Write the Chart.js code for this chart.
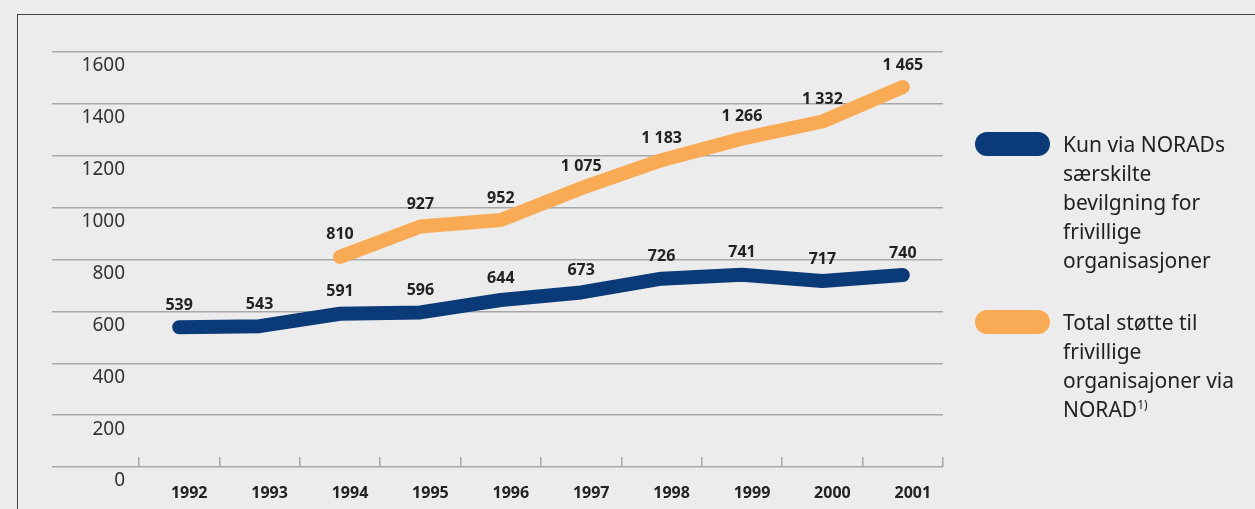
<!DOCTYPE html>
<html>
<head>
<meta charset="utf-8">
<script src="https://cdn.jsdelivr.net/npm/chart.js@4"></script>
<style>
html, body { margin: 0; padding: 0; background: #ececec; }
#wrap { position: relative; width: 1255px; height: 509px; overflow: hidden; }
#frame { position: absolute; left: 17px; top: 14px; width: 1300px; height: 600px;
  border-top: 1.5px solid #444; border-left: 1.5px solid #444; }
canvas { position: absolute; left: 0; top: 0; }
.leg { position: absolute; left: 975px; font-family: "Noto Sans", sans-serif; font-size: 21px;
  color: #222; line-height: 29px; }
.leg .pill { position: absolute; left: 0; width: 75px; height: 24px; border-radius: 12px; }
.leg .txt { position: absolute; left: 88px; width: 200px; top: 0; }
.leg sup { font-size: 12px; line-height: 0; }
</style>
</head>
<body>
<div id="wrap">
  <div id="frame"></div>
  <canvas id="chart" width="1255" height="509"></canvas>
  <div class="leg" style="top:132px">
    <div class="pill" style="background:#0b3a78;top:0"></div>
    <div class="txt" style="top:-2px">Kun via NORADs<br>særskilte<br>bevilgning for<br>frivillige<br>organisasjoner</div>
  </div>
  <div class="leg" style="top:310px">
    <div class="pill" style="background:#f9aa55;top:0"></div>
    <div class="txt" style="top:-2px">Total støtte til<br>frivillige<br>organisajoner via<br>NORAD<sup>1)</sup></div>
  </div>
</div>
<script>
var years = ['1992','1993','1994','1995','1996','1997','1998','1999','2000','2001'];
var kunNorad = [539, 543, 591, 596, 644, 673, 726, 741, 717, 740];
var totalStotte = [null, null, 810, 927, 952, 1075, 1183, 1266, 1332, 1465];
var yTicks = [0, 200, 400, 600, 800, 1000, 1200, 1400, 1600];

function fmt(v){
	return String(v).replace(/\B(?=(\d{3})+(?!\d))/g, ' ');
}

// verdier over punktene
var valueLabels = {
	id: 'valueLabels',
	afterDatasetsDraw: function(chart){
		var ctx = chart.ctx;
		ctx.save();
		ctx.font = 'bold 16px "Noto Sans", sans-serif';
		ctx.fillStyle = '#222';
		ctx.textAlign = 'center';
		ctx.textBaseline = 'middle';
		chart.data.datasets.forEach(function(ds, i){
			var meta = chart.getDatasetMeta(i);
			meta.data.forEach(function(pt, j){
				if(ds.data[j] == null) return;
				ctx.fillText(fmt(ds.data[j]), pt.x, pt.y - 22);
			});
		});
		ctx.restore();
	}
};

var ctx = document.getElementById('chart').getContext('2d');
var myChart = new Chart(ctx, {
	type: 'line',
	data: {
		labels: years,
		datasets: [{
			label: 'Kun via NORADs særskilte bevilgning for frivillige organisasjoner',
			data: kunNorad,
			borderColor: '#0b3a78',
			backgroundColor: '#0b3a78',
			borderWidth: 14,
			borderCapStyle: 'round',
			borderJoinStyle: 'round',
			pointRadius: 0,
			tension: 0
		}, {
			label: 'Total støtte til frivillige organisajoner via NORAD',
			data: totalStotte,
			borderColor: '#f9aa55',
			backgroundColor: '#f9aa55',
			borderWidth: 14,
			borderCapStyle: 'round',
			borderJoinStyle: 'round',
			pointRadius: 0,
			tension: 0
		}]
	},
	options: {
		responsive: false,
		animation: false,
		events: [],
		layout: { padding: { left: 52, right: 312, top: 52, bottom: 0 } },
		plugins: { legend: { display: false }, tooltip: { enabled: false } },
		scales: {
			x: {
				offset: true,
				border: { display: false },
				grid: { offset: true, drawOnChartArea: false, drawTicks: true, tickLength: -10, color: '#a8a8a8', lineWidth: 1.5 },
				ticks: { padding: 27, labelOffset: 10, color: '#222', font: { family: '"Noto Sans", sans-serif', size: 16, weight: 'bold' } },
				afterFit: function(s){ s.height = 42; }
			},
			y: {
				min: 0,
				max: 1600,
				border: { display: false },
				afterBuildTicks: function(s){ s.ticks = yTicks.map(function(v){ return { value: v }; }); },
				grid: { color: '#a8a8a8', lineWidth: 1.5, drawTicks: true, tickLength: 87 },
				ticks: {
					padding: -73, labelOffset: 14, color: '#333',
					font: { family: '"Noto Sans", sans-serif', size: 19 },
					callback: function(v){ return String(v); }
				},
				afterFit: function(s){ s.width = 87; }
			}
		}
	},
	plugins: [valueLabels]
});
</script>
</body>
</html>
